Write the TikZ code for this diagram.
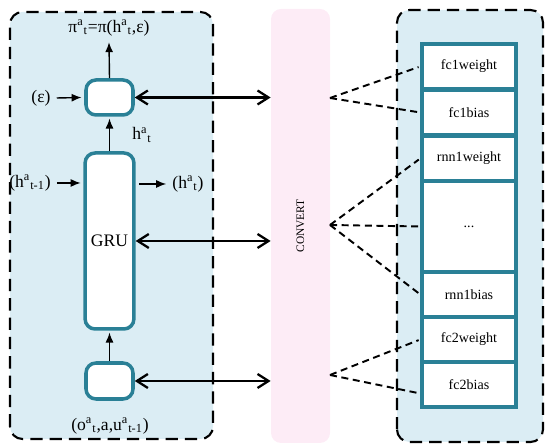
\documentclass[tikz,border=0pt]{standalone}
\usepackage{fontspec}
\setmainfont{Liberation Serif}
\usepackage{xcolor}
\usepackage{tikz}
\usetikzlibrary{arrows.meta}
\definecolor{panelblue}{RGB}{219,237,244}
\definecolor{boxteal}{RGB}{42,128,150}
\definecolor{convertpink}{RGB}{253,236,246}
\newcommand{\supsub}[2]{\textsuperscript{#1}\textsubscript{#2}}

\begin{document}
\begin{tikzpicture}[>={Latex[length=2mm,width=1.6mm]},
  unit/.style={draw=boxteal, line width=2pt, fill=white, rounded corners=0.2cm, minimum width=0.94cm},
  cell/.style={draw=boxteal, line width=2pt, fill=white, minimum width=1.88cm, minimum height=0.9cm, font=\footnotesize},
  panel/.style={draw=black, line width=1.2pt, dash pattern=on 7pt off 4pt, fill=panelblue, rounded corners=0.25cm},
  link/.style={{Straight Barb[length=2.2mm,width=2.8mm]}-{Straight Barb[length=2.2mm,width=2.8mm]}, line width=1.3pt},
  feed/.style={->, line width=0.8pt},
  tie/.style={line width=1.1pt, dash pattern=on 4pt off 2.6pt, shorten >=1pt}]

\useasboundingbox (0,0) rectangle (11,8.96);

% --- Panels ---
\draw[panel] (0.2,0.18) rectangle (4.26,8.72);
\draw[panel] (7.94,0.12) rectangle (10.86,8.76);
\node[fill=convertpink, rounded corners=0.2cm, minimum width=1.18cm, minimum height=8.68cm] (convert) at (6.01,4.44) {};
\node[rotate=90, font=\fontsize{6.5}{7}\selectfont] (convlbl) at (convert.center) {CONVERT};

% --- Left panel: agent network ---
\node[unit, minimum height=0.7cm] (topbox) at (2.19,7.01) {};
\node[unit, minimum height=3.52cm] (gru) at (2.19,4.14) {GRU};
\node[unit, minimum height=0.72cm] (bottombox) at (2.19,1.34) {};
\node (policy) at (2.18,8.4) {π\supsub{a}{t}=π(h\supsub{a}{t},ε)};
\node (noise) at (0.82,7.0) {(ε)};
\node (hlabel) at (2.84,6.26) {h\supsub{a}{t}};
\node (hin) at (0.6,5.3) {(h\supsub{a}{t-1})};
\node (hout) at (3.76,5.28) {(h\supsub{a}{t})};
\node (obs) at (2.2,0.44) {(o\supsub{a}{t},a,u\supsub{a}{t-1})};

\draw[feed] (topbox.north) -- (policy.south);
\draw[feed] (noise.east) -- ([xshift=-1.5pt]topbox.west);
\draw[feed] (gru.north) -- ([yshift=-1pt]topbox.south);
\draw[feed] (bottombox.north) -- ([yshift=-1pt]gru.south);
\draw[feed] (hin.east) -- ([xshift=-1.5pt]gru.west |- hin.east);
\draw[feed, shorten <=2pt] (gru.east |- hout.west) -- (hout.west);

% --- Links to CONVERT ---
\draw[link] (topbox.east) -- (topbox.east -| convert.west);
\draw[link] (gru.east) -- (gru.east -| convert.west);
\draw[link] (bottombox.east) -- (bottombox.east -| convert.west);

% --- Right panel: parameters ---
\node[cell] (fc1w) at (9.38,7.63) {fc1weight};
\node[cell] (fc1b) at (9.38,6.71) {fc1bias};
\node[cell] (rnnw) at (9.38,5.79) {rnn1weight};
\node[cell, minimum height=1.82cm] (dots) at (9.38,4.43) {...};
\node[cell] (rnnb) at (9.38,3.07) {rnn1bias};
\node[cell] (fc2w) at (9.38,2.17) {fc2weight};
\node[cell] (fc2b) at (9.38,1.27) {fc2bias};

\coordinate (jtop) at (6.6,7.0);
\coordinate (jmid) at (6.6,4.46);
\coordinate (jbot) at (6.6,1.46);
\draw[tie] (jtop) -- (fc1w.west);
\draw[tie] (jtop) -- (fc1b.west);
\draw[tie] (jmid) -- (rnnw.west);
\draw[tie] (jmid) -- (dots.west);
\draw[tie] (jmid) -- (rnnb.west);
\draw[tie] (jbot) -- (fc2w.west);
\draw[tie] (jbot) -- ([yshift=-0.18cm]fc2b.west);

\end{tikzpicture}
\end{document}
